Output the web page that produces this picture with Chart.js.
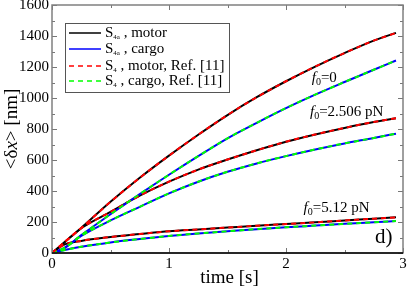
<!DOCTYPE html>
<html>
<head>
<meta charset="utf-8">
<script src="https://cdn.jsdelivr.net/npm/chart.js@4.4.1/dist/chart.umd.min.js"></script>
<style>
  html, body { margin: 0; padding: 0; background: #fff; }
  canvas { display: block; }
</style>
</head>
<body>
<canvas id="chart" width="409" height="288"></canvas>
<script>
// time axis (s) and mean displacement <dx> (nm)
const times = [0, 0.1, 0.25, 0.5, 0.75, 1, 1.25, 1.5, 1.75, 2, 2.25, 2.5, 2.75, 2.94];

const motorF0    = [0, 65, 162, 330, 485, 628, 763, 890, 1005, 1108, 1203, 1290, 1370, 1420];
const cargoF0    = [0, 30, 115, 250, 380, 505, 625, 740, 840, 935, 1022, 1103, 1182, 1242];
const motorF2506 = [0, 65, 160, 265, 370, 460, 538, 603, 663, 718, 765, 807, 845, 869];
const cargoF2506 = [0, 30, 110, 210, 298, 385, 460, 524, 578, 625, 668, 707, 742, 770];
const motorF512  = [0, 52, 78, 103, 122, 140, 152, 164, 176, 187, 198, 210, 221, 230];
const cargoF512  = [0, 18, 40, 68, 90, 110, 126, 140, 154, 166, 177, 188, 198, 206];

// Ref. [11] curves sit right on top of the S4a ones
const refMotorF0    = motorF0.slice();
const refCargoF0    = cargoF0.slice();
const refMotorF2506 = motorF2506.slice();
const refCargoF2506 = cargoF2506.slice();
const refMotorF512  = motorF512.slice();
const refCargoF512  = cargoF512.slice();

const legendLabels = [
    { sub: "4a", text: " , motor" },
    { sub: "4a", text: " , cargo" },
    { sub: "4",  text: " , motor, Ref. [11]" },
    { sub: "4",  text: " , cargo, Ref. [11]" }
];
const forceLabels = [
    { rest: "=0",         t: 2.22, v: 1127 },
    { rest: "=2.506 pN",  t: 2.205, v: 910 },
    { rest: "=5.12 pN",   t: 2.15, v: 290 }
];

const SERIF = "'Liberation Serif', 'DejaVu Serif', serif";
const BLACK = "#000000", BLUE = "#0000ff", RED = "#ff0000", GREEN = "#00ff00";

function toPoints(values) {
    return times.map((t, i) => ({ x: t, y: values[i] }));
}

function line(values, color, dashed) {
    return {
        data: toPoints(values),
        borderColor: color,
        borderWidth: 2,
        borderDash: dashed ? [5, 4] : [],
        pointRadius: 0,
        cubicInterpolationMode: "monotone",
        fill: false,
        order: dashed ? 0 : 1
    };
}

const datasets = [
    line(motorF0, BLACK, false),
    line(cargoF0, BLUE, false),
    line(motorF2506, BLACK, false),
    line(cargoF2506, BLUE, false),
    line(motorF512, BLACK, false),
    line(cargoF512, BLUE, false),
    line(refMotorF0, RED, true),
    line(refCargoF0, GREEN, true),
    line(refMotorF2506, RED, true),
    line(refCargoF2506, GREEN, true),
    line(refMotorF512, RED, true),
    line(refCargoF512, GREEN, true)
];

function drawMixed(ctx, parts, x, y) {
    // parts: [{text, font, dy}]
    let cx = x;
    parts.forEach(p => {
        ctx.font = p.font;
        ctx.fillText(p.text, cx, y + (p.dy || 0));
        cx += ctx.measureText(p.text).width;
    });
    return cx - x;
}

function mixedWidth(ctx, parts) {
    let w = 0;
    parts.forEach(p => {
        ctx.font = p.font;
        w += ctx.measureText(p.text).width;
    });
    return w;
}

const decorPlugin = {
    id: "decor",
    afterDraw(chart) {
        const ctx = chart.ctx;
        const a = chart.chartArea;
        const xs = chart.scales.x, ys = chart.scales.y;

        ctx.save();

        // inward ticks on all four sides
        ctx.strokeStyle = "#777";
        ctx.lineWidth = 1;
        ctx.beginPath();
        for (let v = 0; v <= 1600; v += 100) {
            const py = Math.round(ys.getPixelForValue(v)) + 0.5;
            const len = v % 200 === 0 ? 5 : 3;
            ctx.moveTo(a.left, py); ctx.lineTo(a.left + len, py);
            ctx.moveTo(a.right, py); ctx.lineTo(a.right - len, py);
        }
        for (let t = 0; t <= 3; t += 0.5) {
            const px = Math.round(xs.getPixelForValue(t)) + 0.5;
            const len = t % 1 === 0 ? 5 : 3;
            ctx.moveTo(px, a.bottom); ctx.lineTo(px, a.bottom - len);
            ctx.moveTo(px, a.top); ctx.lineTo(px, a.top + len);
        }
        ctx.stroke();

        // frame
        ctx.strokeStyle = "#808080";
        ctx.lineWidth = 1.5;
        ctx.strokeRect(a.left, a.top, a.right - a.left, a.bottom - a.top);
        ctx.strokeStyle = "#000";
        ctx.beginPath();
        ctx.moveTo(a.left, a.bottom); ctx.lineTo(a.right, a.bottom);
        ctx.stroke();

        ctx.fillStyle = "#000";
        ctx.textBaseline = "middle";
        ctx.textAlign = "left";

        // axis titles
        const xTitle = [{ text: "time [s]", font: "19px " + SERIF }];
        drawMixed(ctx, xTitle, (a.left + a.right) / 2 - mixedWidth(ctx, xTitle) / 2 + 2, 278);

        const yTitle = [
            { text: "<\u03b4", font: "19px " + SERIF },
            { text: "x", font: "italic 19px " + SERIF },
            { text: "> [nm]", font: "19px " + SERIF }
        ];
        ctx.save();
        ctx.translate(12, 129);
        ctx.rotate(-Math.PI / 2);
        drawMixed(ctx, yTitle, -mixedWidth(ctx, yTitle) / 2, 0);
        ctx.restore();

        // force annotations
        forceLabels.forEach(f => {
            drawMixed(ctx, [
                { text: "f", font: "italic 15px " + SERIF },
                { text: "0", font: "10px " + SERIF, dy: 4 },
                { text: f.rest, font: "15px " + SERIF }
            ], xs.getPixelForValue(f.t), ys.getPixelForValue(f.v));
        });

        ctx.font = "21px " + SERIF;
        ctx.fillText("d)", xs.getPixelForValue(2.76), ys.getPixelForValue(103));

        // legend
        ctx.fillStyle = "#fff";
        ctx.fillRect(65, 23, 164, 69);
        ctx.strokeStyle = "#555";
        ctx.lineWidth = 1;
        ctx.strokeRect(65.5, 23.5, 164, 69);

        const colors = [BLACK, BLUE, RED, GREEN];
        const rowsY = [33, 49, 66, 81];
        legendLabels.forEach((l, i) => {
            ctx.strokeStyle = colors[i];
            ctx.lineWidth = 1.5;
            ctx.setLineDash(i >= 2 ? [5, 4] : []);
            ctx.beginPath();
            ctx.moveTo(69, rowsY[i]); ctx.lineTo(101, rowsY[i]);
            ctx.stroke();
            ctx.setLineDash([]);
            ctx.fillStyle = "#000";
            drawMixed(ctx, [
                { text: "S", font: "15px " + SERIF },
                { text: l.sub, font: "7px " + SERIF, dy: 4 },
                { text: l.text, font: "15px " + SERIF }
            ], 105, rowsY[i]);
        });

        ctx.restore();
    }
};

new Chart(document.getElementById("chart"), {
    type: "line",
    data: { datasets },
    options: {
        responsive: false,
        animation: false,
        devicePixelRatio: 1,
        layout: { padding: { top: 5, right: 6, left: 0, bottom: 0 } },
        plugins: {
            legend: { display: false },
            tooltip: { enabled: false }
        },
        scales: {
            x: {
                type: "linear",
                min: 0,
                max: 3,
                ticks: {
                    stepSize: 1,
                    color: "#000",
                    padding: 2,
                    maxRotation: 0,
                    callback: v => String(v),
                    font: { family: SERIF, size: 15 }
                },
                grid: { display: false, drawTicks: false },
                border: { display: false },
                afterFit(s) {
                    s.height = 35;
                    s.paddingLeft = 0;
                    s.paddingRight = 0;
                }
            },
            y: {
                min: 0,
                max: 1600,
                ticks: {
                    stepSize: 200,
                    color: "#000",
                    padding: 3,
                    callback: v => String(v),
                    font: { family: SERIF, size: 15 }
                },
                grid: { display: false, drawTicks: false },
                border: { display: false },
                afterFit(s) {
                    s.width = 52;
                    s.paddingTop = 0;
                    s.paddingBottom = 0;
                }
            }
        }
    },
    plugins: [decorPlugin]
});
</script>
</body>
</html>
